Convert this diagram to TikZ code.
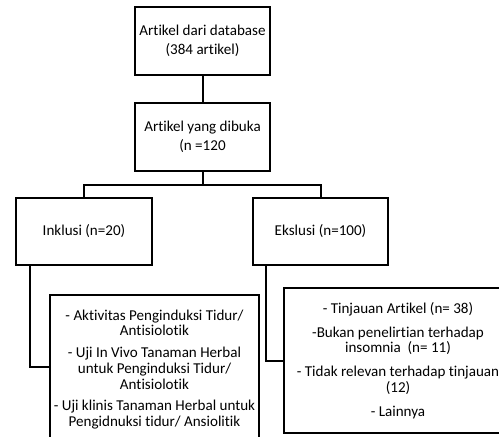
\documentclass[tikz,border=0pt]{standalone}
\usepackage{fontspec}
\setmainfont{Carlito}[Ligatures=NoCommon]
\usetikzlibrary{calc}

\begin{document}
\begin{tikzpicture}[x=0.75pt, y=-0.75pt, line width=1.5pt,
    box/.style={draw, align=center, inner sep=0pt, font=\fontsize{11.3}{13.9}\selectfont},
    listbox/.style={draw, align=center, inner xsep=0pt, font=\fontsize{11.3}{11.8}\selectfont}]
    % Rahmen
    \useasboundingbox (0,0) rectangle (499,436);
    \clip (0,0) rectangle (499,436);

    % Kotak atas
    \node[box, minimum width=101.25pt, minimum height=51pt] (db) at (202.5,41) {Artikel dari database\\(384 artikel)};
    \node[box, minimum width=101.25pt, minimum height=51pt] (buka) at (202.5,137) {Artikel yang dibuka\\(n =120};

    % Inklusi dan eksklusi
    \node[box, minimum width=102pt, minimum height=50.25pt] (incl) at (84,231.5) {Inklusi (n=20)};
    \node[box, minimum width=101.25pt, minimum height=50.25pt] (excl) at (320.5,231.5) {Ekslusi (n=100)};

    % Daftar rincian
    \node[listbox, anchor=north, minimum width=156.75pt, inner ysep=11pt, text depth=30pt] (incl-list) at (154.5,294)
        {- Aktivitas Penginduksi Tidur/\\Antisiolotik\\[4.5pt]- Uji In Vivo Tanaman Herbal\\untuk Penginduksi Tidur/\\Antisiolotik\\[4.5pt]- Uji klinis Tanaman Herbal untuk\\Pengidnuksi tidur/ Ansiolitik};
    \node[listbox, anchor=north west, minimum width=171pt, minimum height=108.75pt] (excl-list) at (283,287)
        {- Tinjauan Artikel (n= 38)\\[6pt]-Bukan penelirtian terhadap\\insomnia\ \ (n= 11)\\[6pt]- Tidak relevan terhadap tinjauan\\(12)\\[6pt]- Lainnya};

    % Garis penghubung
    \draw (db.south) -- (buka.north);
    \draw (buka.south) -- ++(0,13) coordinate (split);
    \draw (incl.north) |- (split) -| (excl.north);
    \coordinate (incl-join) at (0,367);
    \draw ($(incl.south west)+(15,0)$) |- (incl-list.west |- incl-join);
    \draw ($(excl.south west)+(14,0)$) |- (excl-list.west);
\end{tikzpicture}
\end{document}
